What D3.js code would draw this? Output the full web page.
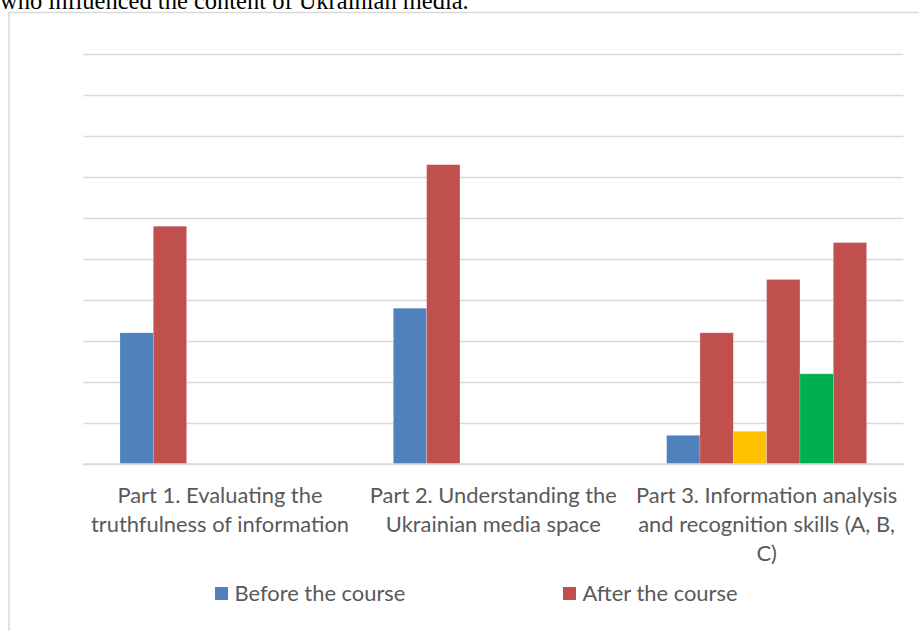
<!DOCTYPE html>
<html>
<head>
<meta charset="utf-8">
<script src="https://cdn.jsdelivr.net/npm/d3@7"></script>
<style>
  html, body { margin: 0; padding: 0; background: #fff; }
  svg { display: block; }
</style>
</head>
<body>
<svg id="chart" width="919" height="631"></svg>
<script>
// ---- data ----
const captionText = "who influenced the content of Ukrainian media.";
const categories = [
  "Part 1. Evaluating the\ntruthfulness of information",
  "Part 2. Understanding the\nUkrainian media space",
  "Part 3. Information analysis\nand recognition skills (A, B,\nC)"
];
const seriesNames = ["Before the course", "After the course", "Before (B)", "After (B)", "Before (C)", "After (C)"];
const legendNames = ["Before the course", "After the course"];
const beforeA = [32, 38, 7];
const afterA  = [58, 73, 32];
const beforeB = [null, null, 8];
const afterB  = [null, null, 45];
const beforeC = [null, null, 22];
const afterC  = [null, null, 54];
const yTicks = [0, 10, 20, 30, 40, 50, 60, 70, 80, 90, 100];
const seriesColors = ["#4F81BD", "#C0504D", "#FFC000", "#C0504D", "#00B050", "#C0504D"];

const seriesValues = [beforeA, afterA, beforeB, afterB, beforeC, afterC];

// ---- layout ----
const svg = d3.select("#chart");
const plot = { left: 83.3, right: 903.3, top: 54, bottom: 464 };
const textColor = "#595959";
const fontFamily = "Lato, 'Open Sans', sans-serif";

// helper: fit font size to a target width
function fitSize(text, family, targetWidth, base) {
  const t = svg.append("text").attr("font-family", family).attr("font-size", base).text(text);
  const w = t.node().getComputedTextLength();
  t.remove();
  return base * targetWidth / w;
}

// caption (cut at top, as in the reference)
const capSize = fitSize(captionText, "'Liberation Serif', 'Times New Roman', serif", 469, 21);
svg.append("text")
  .attr("x", 0).attr("y", 8.5)
  .attr("font-family", "'Liberation Serif', 'Times New Roman', serif")
  .attr("font-size", capSize)
  .attr("fill", "#000")
  .text(captionText);

// chart border
svg.append("rect")
  .attr("x", 9).attr("y", 12.5)
  .attr("width", 940).attr("height", 640)
  .attr("fill", "none")
  .attr("stroke", "#d9d9d9")
  .attr("stroke-width", 1.5);

const labelSize = fitSize("Before the course", fontFamily, 171, 19);

const y = d3.scaleLinear().domain([0, 100]).range([plot.bottom, plot.top]);
const x0 = d3.scaleBand().domain(categories).range([plot.left, plot.right]).paddingInner(0).paddingOuter(0);
const x1 = d3.scaleBand().domain(seriesNames).range([0, x0.bandwidth()]).paddingInner(0).paddingOuter(1.1);

// gridlines
const yAxis = d3.axisLeft(y).tickValues(yTicks).tickSize(-(plot.right - plot.left)).tickFormat("");
const gy = svg.append("g").attr("transform", `translate(${plot.left},0)`).call(yAxis);
gy.select(".domain").remove();
gy.selectAll(".tick line").attr("stroke", "#d9d9d9").attr("stroke-width", 1.6);

// bars
const rows = [];
categories.forEach((c, ci) => {
  seriesNames.forEach((s, si) => {
    const v = seriesValues[si][ci];
    if (v != null) rows.push({ cat: c, series: s, value: v, color: seriesColors[si] });
  });
});
svg.append("g").selectAll("rect")
  .data(rows)
  .join("rect")
  .attr("x", d => x0(d.cat) + x1(d.series))
  .attr("y", d => y(d.value))
  .attr("width", x1.bandwidth())
  .attr("height", d => y(0) - y(d.value))
  .attr("fill", d => d.color)
  .attr("stroke", "#ffffff")
  .attr("stroke-opacity", 0.35)
  .attr("stroke-width", 0.6);

// baseline
svg.append("line")
  .attr("x1", plot.left).attr("x2", plot.right)
  .attr("y1", y(0)).attr("y2", y(0))
  .attr("stroke", "#d9d9d9").attr("stroke-width", 1.6);

// category labels
const xAxis = d3.axisBottom(x0).tickSize(0).tickFormat("");
const gx = svg.append("g").attr("transform", `translate(0,${plot.bottom})`).call(xAxis);
gx.select(".domain").remove();
gx.selectAll(".tick").each(function(d) {
  const lines = d.split("\n");
  const t = d3.select(this).append("text")
    .attr("text-anchor", "middle")
    .attr("fill", textColor)
    .attr("font-family", fontFamily)
    .attr("font-size", labelSize);
  lines.forEach((ln, i) => {
    t.append("tspan").attr("x", 0).attr("y", 38.5 + i * 29).text(ln);
  });
});

// legend
const lx = d3.scaleBand().domain(legendNames).range([215, 215 + 348 * 2]);
const lg = svg.append("g").selectAll("g")
  .data(legendNames)
  .join("g")
  .attr("transform", d => `translate(${lx(d)},0)`);
lg.append("rect")
  .attr("x", 0).attr("y", 587)
  .attr("width", 13).attr("height", 13)
  .attr("fill", (d, i) => seriesColors[i]);
lg.append("text")
  .attr("x", 19.5).attr("y", 601)
  .attr("fill", textColor)
  .attr("font-family", fontFamily)
  .attr("font-size", labelSize)
  .text(d => d);
</script>
</body>
</html>
